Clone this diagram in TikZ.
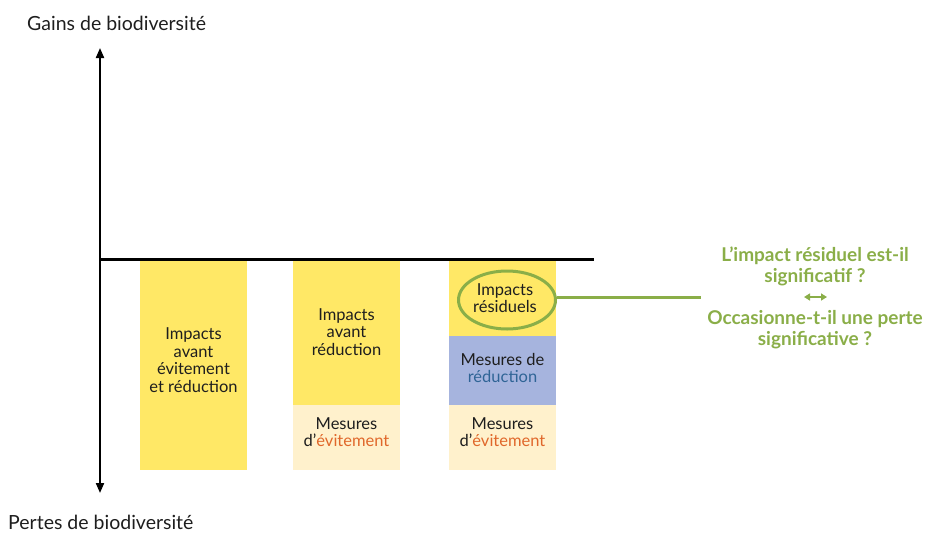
\documentclass[tikz,border=0pt]{standalone}
\usepackage{fontspec}
\setmainfont{Lato}
\usetikzlibrary{arrows.meta,shapes.geometric}
\definecolor{yel}{HTML}{FFE866}
\definecolor{lightyel}{HTML}{FFF1CC}
\definecolor{blu}{HTML}{A6B4DE}
\definecolor{grn}{HTML}{8AAE48}
\definecolor{org}{HTML}{E0672A}
\definecolor{dblue}{HTML}{2F6496}
\definecolor{txt}{HTML}{1E1E1E}
\begin{document}
\begin{tikzpicture}[x=1pt,y=-1pt,
  barbox/.style={inner sep=0pt,outer sep=0pt,minimum width=107pt,anchor=north west},
  bartxt/.style={inner sep=0pt,font=\fontsize{16.5}{17.6}\selectfont,text=txt,align=center},
  axislbl/.style={font=\fontsize{19.5}{22}\selectfont,text=txt,inner sep=0pt,anchor=west},
  q/.style={font=\bfseries\fontsize{19}{21}\selectfont,text=grn,align=center,inner sep=0pt}]
\useasboundingbox (0,0) rectangle (925,533);
% bars
\node[barbox,fill=yel,minimum height=209pt] (b1) at (140,261) {};
\node[bartxt] (t1) at (193.5,360) {Impacts\\avant\\évitement\\et réduction};
\node[barbox,fill=yel,minimum height=144pt] (b2y) at (293,261) {};
\node[bartxt] (t2) at (346.5,332) {Impacts\\avant\\réduction};
\node[barbox,fill=lightyel,minimum height=65pt] (b2e) at (293,405) {};
\node[bartxt] (t3) at (346.5,432) {Mesures\\d’\textcolor{org}{évitement}};
\node[barbox,fill=yel,minimum height=75pt] (b3y) at (449,261) {};
\node[barbox,fill=blu,minimum height=69pt] (b3r) at (449,336) {};
\node[bartxt] (t4) at (502.5,368) {Mesures de\\\textcolor{dblue}{réduction}};
\node[barbox,fill=lightyel,minimum height=65pt] (b3e) at (449,405) {};
\node[bartxt] (t5) at (502.5,432) {Mesures\\d’\textcolor{org}{évitement}};
% axes
\coordinate (top) at (100,48);
\coordinate (bot) at (100,493);
\coordinate (ol) at (100,259);
\coordinate (or) at (594,259);
\draw[line width=2pt,{Triangle[width=8pt,length=10pt]}-{Triangle[width=8pt,length=10pt]}] (top) -- (bot);
\draw[line width=3pt] (ol) -- (or);
% ellipse
\node[ellipse,draw=grn,line width=3pt,minimum width=97pt,minimum height=58pt,inner sep=0pt] (ell) at (507,300) {};
\node[bartxt] (t6) at (505,298) {Impacts\\résiduels};
\coordinate (lend) at (701,297);
\draw[grn,line width=3pt] (ell.east |- lend) -- (lend);
% question text
\node[q] (q1) at (815,266) {L’impact résiduel est-il\\significatif ?};
\coordinate (al) at (804,297);
\coordinate (ar) at (827,297);
\draw[grn,line width=2pt,{Triangle[width=7pt,length=6pt]}-{Triangle[width=7pt,length=6pt]}] (al) -- (ar);
\node[q] (q2) at (815,330) {Occasionne-t-il une perte\\significative ?};
% axis labels
\node[axislbl] (gain) at (27,23) {Gains de biodiversité};
\node[axislbl] (perte) at (8,522) {Pertes de biodiversité};
\end{tikzpicture}
\end{document}
